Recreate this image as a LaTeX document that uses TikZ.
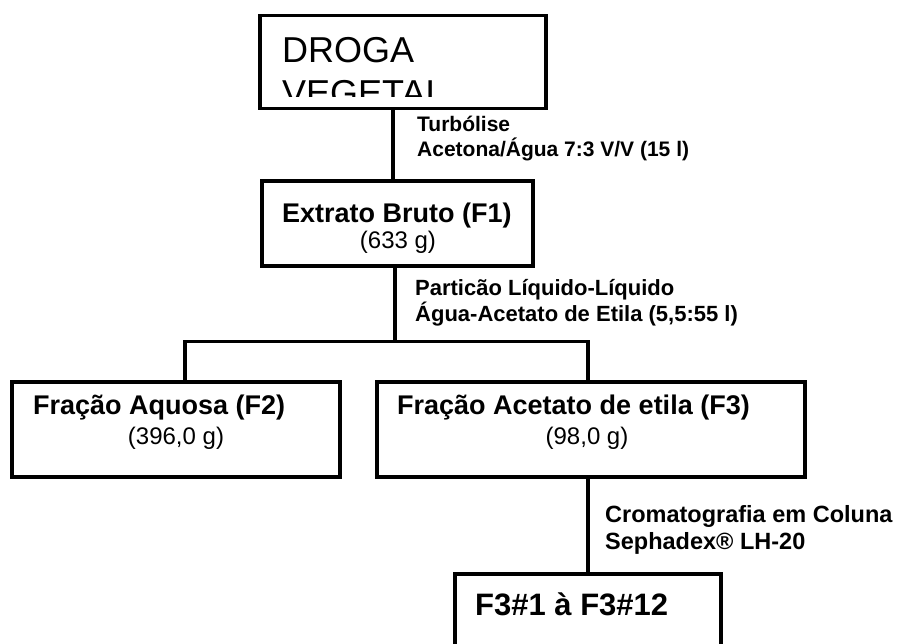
\documentclass[tikz,border=0pt]{standalone}
\usepackage{fontspec}
\setmainfont{Liberation Sans}
\begin{document}
\begin{tikzpicture}[x=1pt,y=-1pt,
  box/.style={draw, line width=3.5pt, rectangle, inner sep=0pt},
  conn/.style={draw, line width=3.5pt},
  txt/.style={anchor=base west, inner sep=0pt},
  big/.style={txt, font=\fontsize{36}{43}\selectfont},
  head/.style={txt, font=\fontsize{27}{32}\bfseries\selectfont},
  sub/.style={txt, font=\fontsize{24}{29}\selectfont},
  lbla/.style={txt, font=\fontsize{21}{25}\bfseries\selectfont},
  lblb/.style={txt, font=\fontsize{22}{26}\bfseries\selectfont},
  lblc/.style={txt, font=\fontsize{23.5}{28}\bfseries\selectfont},
  fin/.style={txt, font=\fontsize{31}{37}\bfseries\selectfont}]
\useasboundingbox (0,0) rectangle (903,644);
\clip (0,0) rectangle (903,644);
\fill[white] (0,0) rectangle (903,644);

% boxes
\node[box, minimum width=286pt, minimum height=93pt] (b1) at (403,62) {};
\node[box, minimum width=271pt, minimum height=85pt] (b2) at (397.5,223.5) {};
\node[box, minimum width=328pt, minimum height=95pt] (fa) at (176,429.5) {};
\node[box, minimum width=428pt, minimum height=95pt] (fb) at (591,429.5) {};
\node[box, minimum width=266pt, minimum height=150pt] (b4) at (588,649) {};

% clipped title
\begin{scope}
  \clip (262,17) rectangle (544,97);
  \node[big] (t1a) at (282,63) {DROGA};
  \node[big] (t1b) at (282,106) {VEGETAL};
\end{scope}

\node[head] (t2) at (282,223) {Extrato Bruto (F1)};
\node[sub, anchor=base] (t2s) at (398,249) {(633 g)};
\node[head] (t3) at (33,415) {Fração Aquosa (F2)};
\node[sub, anchor=base] (t3s) at (176,444) {(396,0 g)};
\node[head] (t4) at (397,415) {Fração Acetato de etila (F3)};
\node[sub, anchor=base] (t4s) at (587,444) {(98,0 g)};
\node[fin] (t5) at (475,615) {F3\#1 à F3\#12};

% labels
\node[lbla] (l1a) at (417,132) {Turbólise};
\node[lbla] (l1b) at (417,157) {Acetona/Água 7:3 V/V (15 l)};
\node[lblb] (l2a) at (415,296) {Particão Líquido-Líquido};
\node[lblb] (l2b) at (415,322) {Água-Acetato de Etila (5,5:55 l)};
\node[lblc] (l3a) at (605,522) {Cromatografia em Coluna};
\node[lblc] (l3b) at (605,549) {Sephadex® LH-20};

% connectors
\coordinate (k1) at (393,0);
\draw[conn] (b1.south -| k1) -- (b2.north -| k1);
\coordinate (k2) at (395,341.5);
\draw[conn] (b2.south -| k2) -- (k2);
\coordinate (bl) at (185,341.5);
\coordinate (br) at (588,341.5);
\draw[conn] (fa.north -| bl) -- (bl) -- (br) -- (fb.north -| br);
\draw[conn] (fb.south -| br) -- (b4.north -| br);
\end{tikzpicture}
\end{document}
